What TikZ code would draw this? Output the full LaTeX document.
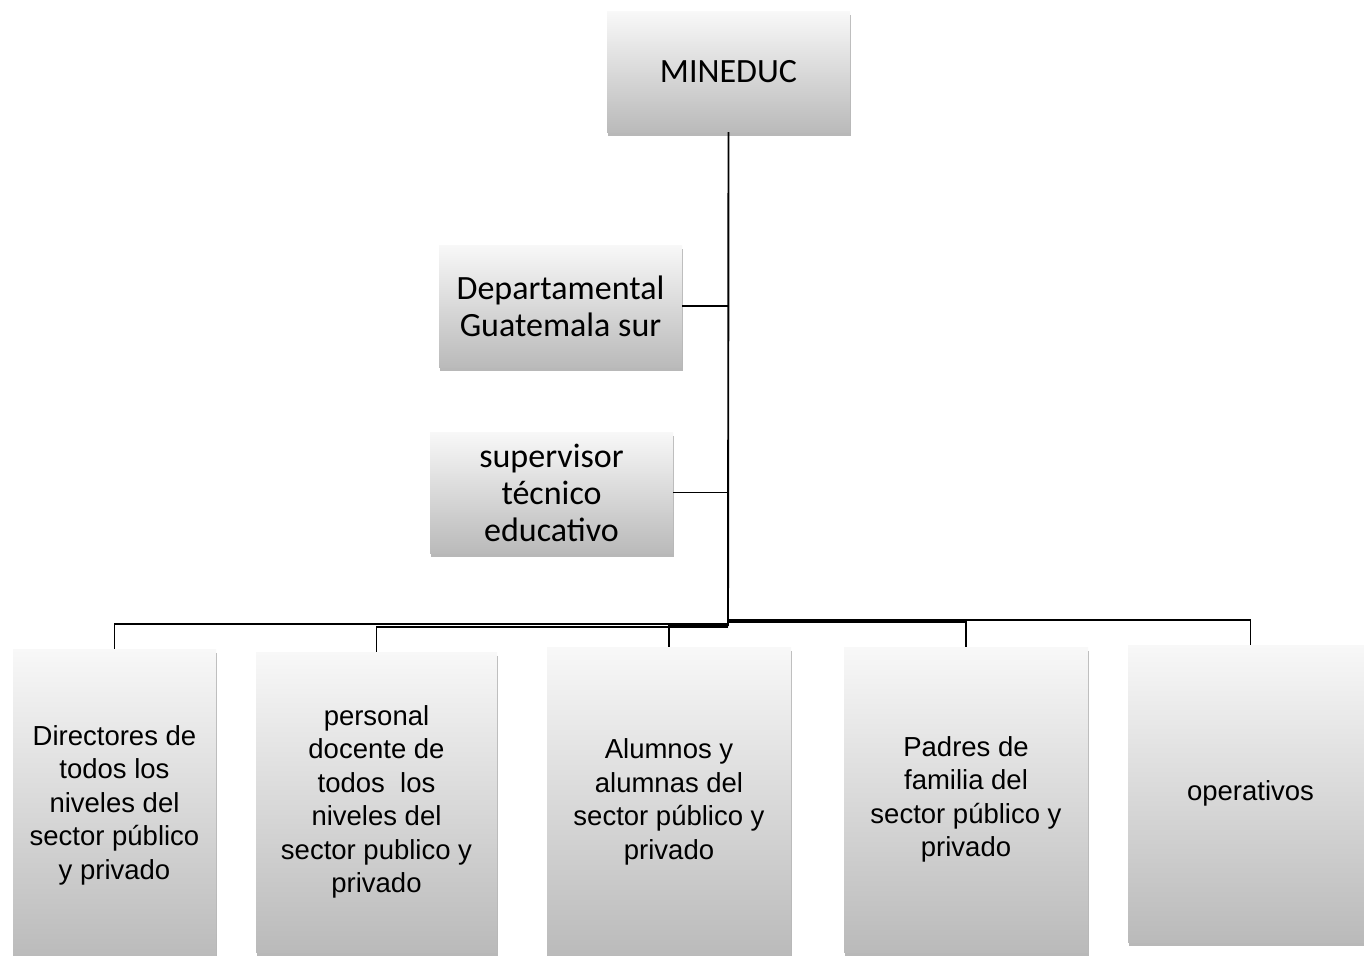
\documentclass[tikz,border=0pt]{standalone}
\usepackage{fontspec}
\setmainfont{Liberation Sans}
\newfontfamily\calib{Carlito}
\usetikzlibrary{shadows}
\definecolor{boxtop}{HTML}{F8F8F8}
\definecolor{boxbot}{HTML}{BABABA}
\tikzset{
  orgbox/.style={rectangle, inner sep=0pt, align=center, top color=boxtop, bottom color=boxbot,
    draw=none, drop shadow={shadow xshift=0.8pt, shadow yshift=-3.5pt, opacity=0.28, fill=black}},
  topbox/.style={orgbox, font=\calib\fontsize{34}{37}\selectfont},
  lowbox/.style={orgbox, font=\fontsize{27.5}{33.5}\selectfont},
  link/.style={draw=black, line width=1.9pt}
}
\begin{document}
\begin{tikzpicture}[x=1pt, y=-1pt]
\useasboundingbox[fill=white] (0,0) rectangle (1364,955);
% upper boxes
\node[topbox, minimum width=243pt, minimum height=120pt] (min) at (728.5,72) {MINEDUC};
\node[topbox, minimum width=243pt, minimum height=122pt] (dep) at (560.5,306) {Departamental\\Guatemala sur};
\node[topbox, minimum width=243pt, minimum height=121pt] (sup) at (551.5,492.5) {supervisor\\técnico\\educativo};
% lower boxes
\node[lowbox, minimum width=203pt, minimum height=312pt] (b1) at (114.5,805) {Directores de\\todos los\\niveles del\\sector público\\y privado};
\node[lowbox, minimum width=241pt, minimum height=300pt] (b2) at (376.5,802) {personal\\docente de\\todos\ \ los\\niveles del\\sector publico y\\privado};
\node[lowbox, minimum width=244pt, minimum height=310pt] (b3) at (669,802) {Alumnos y\\alumnas del\\sector público y\\privado};
\node[lowbox, minimum width=244pt, minimum height=305pt] (b4) at (966,799.5) {Padres de\\familia del\\sector público y\\privado};
\node[lowbox, minimum width=245pt, minimum height=297pt] (b5) at (1250.5,793.5) {operativos};
% connectors
\coordinate (hub) at (728,625);
\draw[link] (min.south) -- ([yshift=-1pt]hub);
\draw[link] (dep.east) -- (dep.east -| hub);
\draw[link] (sup.east) -- (sup.east -| hub);
\draw[link] ([yshift=1pt]hub) -| (b1.north);
\draw[link] ([yshift=-2pt]hub) -| (b2.north);
\draw[link] (hub) -| (b3.north);
\draw[link] ([yshift=3pt]hub) -| (b4.north);
\draw[link] ([yshift=5pt]hub) -| (b5.north);
\end{tikzpicture}
\end{document}
